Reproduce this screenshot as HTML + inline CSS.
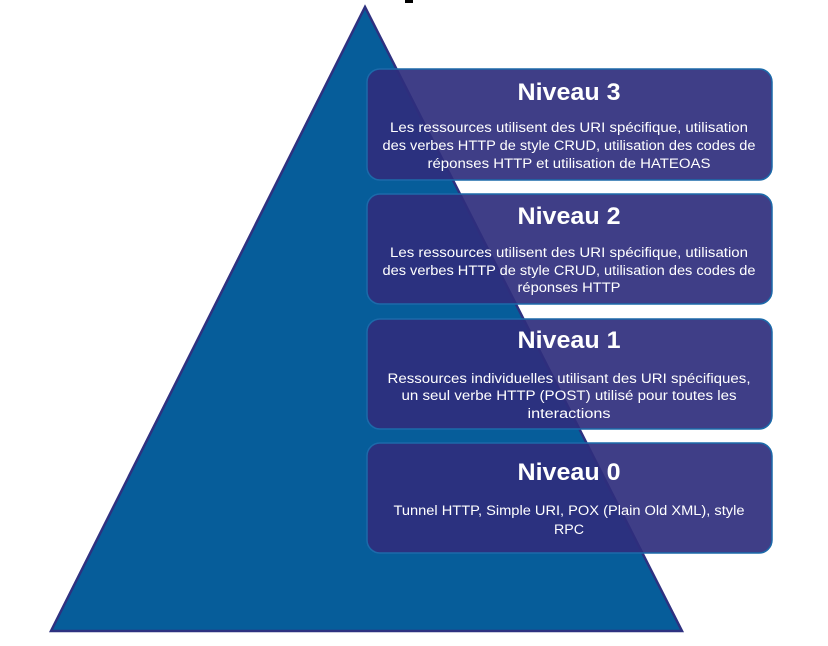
<!DOCTYPE html>
<html><head><meta charset="utf-8"><style>
html,body{margin:0;padding:0;background:#fff;}
svg{display:block;}
text{font-family:"Liberation Sans",sans-serif;fill:#fff;text-anchor:middle;}
.t{font-size:24px;font-weight:bold;}
.b{font-size:13.5px;}
</style></head><body>
<svg width="828" height="646" viewBox="0 0 828 646">
<polygon points="365,7 682,631 51,631" fill="#065d9a" stroke="#2e3180" stroke-width="2.5"/>
<rect x="405" y="0" width="8" height="3" fill="#000"/>
<g fill="rgba(47,46,125,0.92)" stroke="#1c6aaa" stroke-width="1.5">
<rect x="367" y="69" width="405" height="111" rx="13"/>
<rect x="367" y="194" width="405" height="110" rx="13"/>
<rect x="367" y="319" width="405" height="110" rx="13"/>
<rect x="367" y="443" width="405" height="110" rx="13"/>
</g>
<text class="t" x="569" y="100" textLength="103" lengthAdjust="spacingAndGlyphs">Niveau 3</text>
<text class="b" x="569" y="132" textLength="358" lengthAdjust="spacingAndGlyphs">Les ressources utilisent des URI spécifique, utilisation</text>
<text class="b" x="569" y="150" textLength="373" lengthAdjust="spacingAndGlyphs">des verbes HTTP de style CRUD, utilisation des codes de</text>
<text class="b" x="569" y="168" textLength="283" lengthAdjust="spacingAndGlyphs">réponses HTTP et utilisation de HATEOAS</text>

<text class="t" x="569" y="224" textLength="103" lengthAdjust="spacingAndGlyphs">Niveau 2</text>
<text class="b" x="569" y="257" textLength="358" lengthAdjust="spacingAndGlyphs">Les ressources utilisent des URI spécifique, utilisation</text>
<text class="b" x="569" y="275" textLength="373" lengthAdjust="spacingAndGlyphs">des verbes HTTP de style CRUD, utilisation des codes de</text>
<text class="b" x="569" y="292" textLength="103" lengthAdjust="spacingAndGlyphs">réponses HTTP</text>

<text class="t" x="569" y="348" textLength="103" lengthAdjust="spacingAndGlyphs">Niveau 1</text>
<text class="b" x="569" y="383" textLength="363" lengthAdjust="spacingAndGlyphs">Ressources individuelles utilisant des URI spécifiques,</text>
<text class="b" x="569" y="400" textLength="335" lengthAdjust="spacingAndGlyphs">un seul verbe HTTP (POST) utilisé pour toutes les</text>
<text class="b" x="569" y="418" textLength="83" lengthAdjust="spacingAndGlyphs">interactions</text>

<text class="t" x="569" y="480" textLength="103" lengthAdjust="spacingAndGlyphs">Niveau 0</text>
<text class="b" x="569" y="515" textLength="351" lengthAdjust="spacingAndGlyphs">Tunnel HTTP, Simple URI, POX (Plain Old XML), style</text>
<text class="b" x="569" y="534" textLength="30" lengthAdjust="spacingAndGlyphs">RPC</text>
</svg>
</body></html>
